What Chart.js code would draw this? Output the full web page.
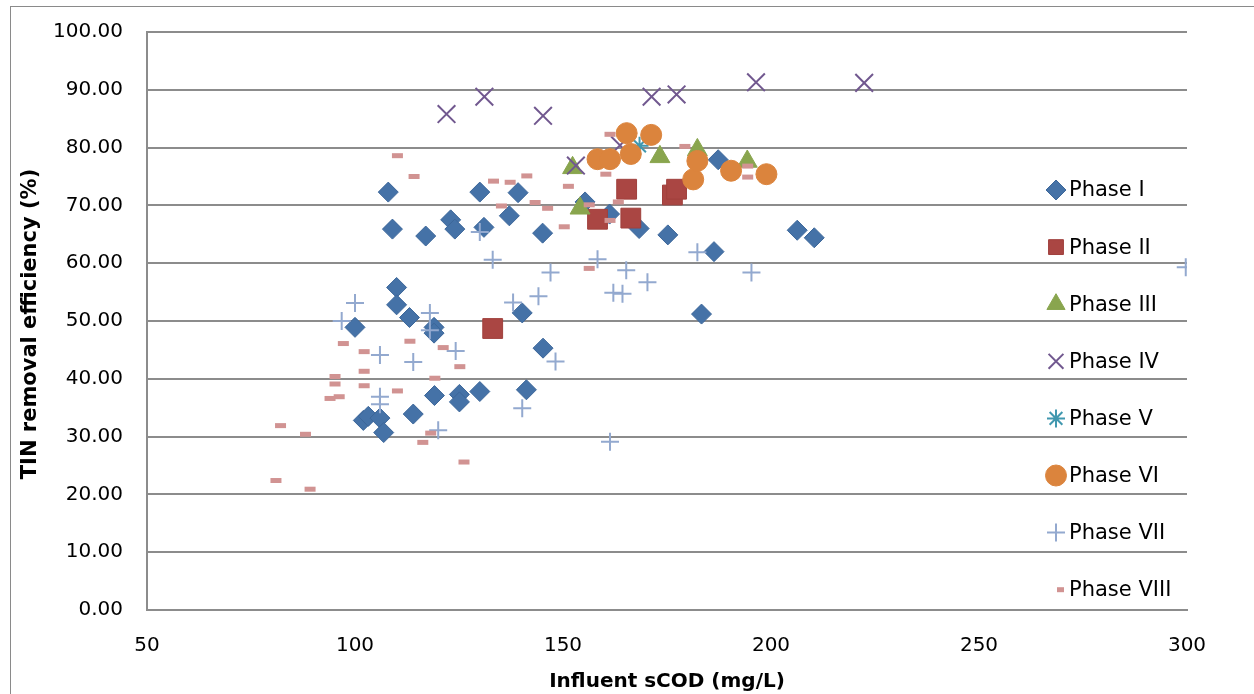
<!DOCTYPE html>
<html>
<head>
<meta charset="utf-8">
<script src="https://cdn.jsdelivr.net/npm/chart.js@4.4.1/dist/chart.umd.min.js"></script>
<style>
  html, body { margin: 0; padding: 0; background: #fff; }
  #wrap { position: relative; width: 1254px; height: 694px; overflow: hidden; }
  #frame { position: absolute; left: 10px; top: 6px; width: 1260px; height: 700px;
           border-left: 1px solid #8a8a8a; border-top: 1px solid #8a8a8a; pointer-events: none; }
  canvas { position: absolute; left: 0; top: 0; }
</style>
</head>
<body>
<div id="wrap">
  <canvas id="chart" width="1254" height="694"></canvas>
  <div id="frame"></div>
</div>
<script>
// ---- data (x = influent sCOD mg/L, y = TIN removal %) ----
const phaseI = [
  [102.0,32.8],[103.2,33.5],[106.0,33.2],[106.9,30.7],[100.0,48.9],[108.0,72.3],[109.0,65.9],
  [110.0,55.8],[110.0,52.8],[113.1,50.6],[114.0,33.9],[117.0,64.7],[119.0,48.9],[119.0,47.9],
  [119.1,37.1],[123.0,67.5],[124.0,65.9],[125.1,37.3],[125.1,36.0],[130.0,72.3],[130.0,37.8],
  [131.0,66.2],[137.1,68.2],[139.2,72.2],[140.2,51.4],[141.2,38.1],[145.1,65.2],[145.2,45.3],
  [155.3,70.6],[161.2,68.5],[168.3,66.0],[175.2,64.9],[183.3,51.2],[186.3,62.0],[187.3,77.9],
  [206.3,65.7],[210.4,64.4]
];
const phaseII = [[133.1,48.7],[158.3,67.6],[165.3,72.8],[166.3,67.8],[176.3,71.8],[177.3,72.8]];
const phaseIII = [[152.3,76.5],[154.1,69.5],[173.3,78.4],[182.3,79.6],[194.3,77.6]];
const phaseIV = [[122.0,85.8],[131.1,88.8],[145.2,85.5],[153.1,76.9],[163.7,80.4],[171.3,88.8],
  [177.3,89.2],[196.4,91.3],[222.4,91.2]];
const phaseV = [[168.4,80.3]];
const phaseVI = [[158.3,78.0],[161.3,78.0],[165.3,82.5],[166.3,78.9],[171.2,82.2],[181.3,74.5],
  [182.3,77.7],[190.4,76.0],[198.9,75.4]];
const phaseVII = [
  [96.8,50.0],[100.0,53.1],[106.0,44.1],[106.0,36.9],[106.0,35.6],[114.0,42.9],[118.0,51.4],
  [118.0,48.4],[120.0,31.1],[124.2,44.8],[130.0,65.4],[133.1,60.6],[138.0,53.2],[140.2,34.9],
  [144.1,54.3],[147.0,58.4],[148.2,43.0],[158.3,60.7],[161.3,29.1],[162.1,54.9],[164.3,54.7],
  [165.2,58.8],[170.3,56.7],[182.3,61.9],[195.3,58.4],[299.7,59.3]
];
const phaseVIII = [
  [81.0,22.4],[82.1,31.9],[88.1,30.4],[89.2,20.9],[94.0,36.6],[95.2,40.4],[95.2,39.1],[96.2,36.9],
  [97.2,46.1],[102.2,44.7],[102.2,41.3],[102.2,38.8],[110.2,78.6],[110.2,37.9],[113.2,46.5],
  [114.2,75.0],[116.3,29.0],[118.2,30.6],[119.2,40.1],[121.2,45.4],[125.2,42.1],[126.2,25.6],
  [133.3,74.2],[135.2,69.9],[137.3,74.0],[141.3,75.1],[143.3,70.5],[146.3,69.5],[150.3,66.3],
  [151.3,73.3],[156.3,70.1],[156.3,59.1],[160.3,75.4],[161.3,82.3],[161.3,67.4],[163.3,70.6],
  [179.3,80.2],[194.4,76.8],[194.4,74.9]
];
const phaseNames = ['Phase I','Phase II','Phase III','Phase IV','Phase V','Phase VI','Phase VII','Phase VIII'];
const xTicks = [50, 100, 150, 200, 250, 300];
const yTicks = [0, 10, 20, 30, 40, 50, 60, 70, 80, 90, 100];
const yTitle = 'TIN removal efficiency (%)';

// ---- styles ----
const series = [
  { data: phaseI,    style: 'rectRot',  r: 10,   fill: '#4572A7', line: '#3d679a', bw: 1 },
  { data: phaseII,   style: 'rect',     r: 14,   fill: '#AA4643', line: '#a0403d', bw: 1 },
  { data: phaseIII,  style: 'triangle', r: 11.5, fill: '#89A54E', line: '#89A54E', bw: 1 },
  { data: phaseIV,   style: 'crossRot', r: 12.5, fill: '#71588F', line: '#71588F', bw: 2 },
  { data: phaseV,    style: 'star',     r: 9,    fill: '#4198AF', line: '#4198AF', bw: 2 },
  { data: phaseVI,   style: 'circle',   r: 10.5, fill: '#DB843D', line: '#DB843D', bw: 1 },
  { data: phaseVII,  style: 'cross',    r: 9,    fill: '#93A9CF', line: '#93A9CF', bw: 2 },
  { data: phaseVIII, style: 'line',     r: 5.5,  fill: '#D19392', line: '#D19392', bw: 5 },
];

const FONT = '"DejaVu Sans", "Liberation Sans", sans-serif';
const GRID = '#8c8c8c';

const datasets = series.map((s, i) => ({
  label: phaseNames[i],
  data: s.data.map(p => ({ x: p[0], y: p[1] })),
  pointStyle: s.style,
  pointRadius: s.r,
  pointHoverRadius: s.r,
  backgroundColor: s.fill,
  borderColor: s.line,
  pointBorderWidth: s.bw,
  borderWidth: s.bw,
  showLine: false,
  order: series.length - i,   // later phases drawn on top, as in the original
}));

// legend sits inside the plot on the right, like the original; y title drawn by hand
const sideLegend = {
  id: 'sideLegend',
  afterDatasetsDraw(chart) {
    const ctx = chart.ctx;
    const mx = 1056, tx = 1069, y0 = 190, step = 57.1;
    ctx.save();
    ctx.font = '21px ' + FONT;
    ctx.textBaseline = 'middle';
    ctx.textAlign = 'left';
    series.forEach((s, i) => {
      const y = y0 + i * step;
      if (s.style === 'line') {
        ctx.strokeStyle = s.line; ctx.lineWidth = 5;
        ctx.beginPath(); ctx.moveTo(mx + 1, y); ctx.lineTo(mx + 8, y); ctx.stroke();
      } else {
        ctx.fillStyle = s.fill; ctx.strokeStyle = s.line; ctx.lineWidth = s.bw;
        Chart.helpers.drawPoint(ctx, {
          pointStyle: s.style, radius: Math.min(s.r, 10.5), borderWidth: s.bw, rotation: 0
        }, mx, y);
      }
      ctx.fillStyle = '#000';
      ctx.fillText(phaseNames[i], tx, y + 1);
    });

    const area = chart.chartArea;
    ctx.translate(31, (area.top + area.bottom) / 2 + 3);
    ctx.rotate(-Math.PI / 2);
    ctx.font = 'bold 21px ' + FONT;
    ctx.textAlign = 'center';
    ctx.fillText(yTitle, 0, 0);
    ctx.restore();
  }
};

new Chart(document.getElementById('chart'), {
  type: 'scatter',
  data: { datasets },
  plugins: [sideLegend],
  options: {
    responsive: false, animation: false, events: [],
    layout: { padding: { left: 0, top: 32, right: 67, bottom: 0 } },
    plugins: { legend: { display: false }, tooltip: { enabled: false } },
    scales: {
      x: {
        type: 'linear', min: 50, max: 300,
        afterBuildTicks: sc => { sc.ticks = xTicks.map(v => ({ value: v })); },
        afterFit: sc => { sc.height = 84; sc.paddingLeft = 0; sc.paddingRight = 0; },
        grid: { display: false, drawTicks: false },
        border: { display: true, color: GRID, width: 2 },
        ticks: { color: '#000', font: { family: FONT, size: 20 }, padding: 24, maxRotation: 0 },
        title: { display: true, text: 'Influent sCOD (mg/L)', color: '#000',
                 font: { family: FONT, size: 20, weight: 'bold' }, padding: { top: 2, bottom: 0 } },
      },
      y: {
        type: 'linear', min: 0, max: 100,
        afterBuildTicks: sc => { sc.ticks = yTicks.map(v => ({ value: v })); },
        afterFit: sc => { sc.width = 147; sc.paddingTop = 0; sc.paddingBottom = 0; },
        grid: { color: GRID, lineWidth: 2, drawTicks: false },
        border: { display: true, color: GRID, width: 2 },
        ticks: { color: '#000', font: { family: FONT, size: 20 }, padding: 24,
                 callback: v => v.toFixed(2) },
        title: { display: false },
      },
    },
  },
});
</script>
</body>
</html>
